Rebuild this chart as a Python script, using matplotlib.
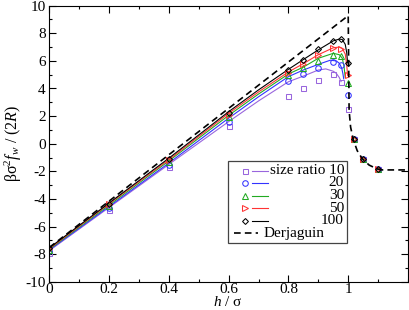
import matplotlib
matplotlib.use("Agg")
import matplotlib.pyplot as plt
from matplotlib.ticker import MultipleLocator, FixedLocator
from matplotlib.patches import Rectangle

plt.rcParams['font.family'] = ['Liberation Serif', 'DejaVu Serif']
plt.rcParams['mathtext.fontset'] = 'custom'
plt.rcParams['mathtext.rm'] = 'Liberation Serif'
plt.rcParams['mathtext.it'] = 'Liberation Serif:italic'
plt.rcParams['axes.unicode_minus'] = False

# ---- data ----
size_ratios = ['10', '20', '30', '50', '100']
colors = ['#9966dd', '#3333ff', '#22aa22', '#ff3333', '#000000']
markers = ['s', 'o', '^', '>', 'D']

# theory curves (lines)
th_x = {
    '10':  [0, 0.2, 0.4, 0.6, 0.7, 0.8, 0.85, 0.9, 0.925, 0.95, 0.96, 0.97, 0.976],
    '20':  [0, 0.2, 0.4, 0.6, 0.7, 0.8, 0.85, 0.9, 0.94, 0.96, 0.97, 0.978, 0.982, 0.985],
    '30':  [0, 0.2, 0.4, 0.6, 0.7, 0.8, 0.85, 0.9, 0.95, 0.97, 0.98, 0.986, 0.99],
    '50':  [0, 0.2, 0.4, 0.6, 0.7, 0.8, 0.85, 0.9, 0.95, 0.97, 0.98, 0.99, 0.995, 0.998],
    '100': [0, 0.2, 0.4, 0.6, 0.7, 0.8, 0.85, 0.9, 0.95, 0.97, 0.98, 0.99, 0.995, 0.998],
}
th_y = {
    '10':  [-7.75, -4.62, -1.5, 1.6, 3.1, 4.49, 4.9, 5.34, 5.42, 5.25, 5.1, 4.8, 4.5],
    '20':  [-7.7, -4.55, -1.4, 1.85, 3.4, 4.86, 5.34, 5.75, 6.05, 6.0, 5.83, 5.5, 5.1, 4.7],
    '30':  [-7.65, -4.45, -1.25, 2.05, 3.6, 5.05, 5.55, 6.19, 6.55, 6.45, 6.2, 5.6, 4.8],
    '50':  [-7.6, -4.35, -1.15, 2.2, 3.75, 5.2, 5.8, 6.45, 6.95, 7.0, 6.9, 6.5, 5.7, 4.95],
    '100': [-7.55, -4.3, -1.05, 2.32, 3.9, 5.39, 6.1, 6.8, 7.45, 7.58, 7.55, 7.2, 6.6, 5.85],
}

# simulation points (markers)
sim_x = [0, 0.2, 0.4, 0.6, 0.8, 0.85, 0.9, 0.95, 0.975, 1.0, 1.02, 1.05, 1.1]
sim_y = {
    '10':  [-7.9, -4.8, -1.71, 1.3, 3.46, 4.0, 4.6, 5.05, 4.47, 2.53, 0.32, -1.09, -1.81],
    '20':  [-7.8, -4.65, -1.55, 1.6, 4.54, 5.05, 5.46, 5.94, 5.7, 3.53, 0.32, -1.09, -1.81],
    '30':  [-7.7, -4.5, -1.35, 1.95, 4.95, 5.45, 6.0, 6.43, 6.36, 4.4, 0.32, -1.09, -1.81],
    '50':  [-7.6, -4.4, -1.2, 2.1, 5.15, 5.78, 6.45, 6.91, 6.86, 4.95, 0.32, -1.09, -1.81],
    '100': [-7.55, -4.35, -1.1, 2.25, 5.36, 6.1, 6.85, 7.46, 7.57, 5.85, 0.32, -1.09, -1.81],
}

# Derjaguin approximation
derj_x = [0, 1.0, 1.003, 1.008, 1.017, 1.03, 1.047, 1.07, 1.097, 1.115, 1.2]
derj_y = [-7.52, 9.28, 2.4, 1.2, 0.3, -0.5, -1.09, -1.55, -1.83, -1.9, -1.9]

# ---- figure ----
fig = plt.figure(figsize=(4.09, 3.10), dpi=100)
ax = fig.add_axes([49.3/409, 1-281.7/310, (408-49.3)/409, (281.7-5.7)/310])

MS = {'s': 3.6, 'o': 4.0, '^': 4.0, '>': 4.0, 'D': 3.0}

for sr, c in zip(size_ratios, colors):
    ax.plot(th_x[sr], th_y[sr], color=c, lw=0.8)
for sr, c, m in zip(size_ratios, colors, markers):
    ax.plot(sim_x, sim_y[sr], ls='none', marker=m, mfc='none', mec=c,
            ms=MS[m], mew=0.75)

ax.plot(derj_x, derj_y, color='black', lw=1.2, ls=(0, (4, 2.5)))

ax.set_xlim(0, 1.2)
ax.set_ylim(-10, 10)
ax.xaxis.set_major_locator(FixedLocator([0, 0.2, 0.4, 0.6, 0.8, 1.0]))
ax.set_xticklabels(['0', '0.2', '0.4', '0.6', '0.8', '1'])
ax.xaxis.set_minor_locator(MultipleLocator(0.1))
ax.yaxis.set_major_locator(MultipleLocator(2))
ax.yaxis.set_minor_locator(MultipleLocator(1))
ax.tick_params(which='both', direction='in', top=True, right=True, labelsize=11)
ax.tick_params(which='major', length=5, width=0.8, pad=2.5)
ax.tick_params(axis='x', which='major', pad=1.0)
ax.tick_params(which='minor', length=2.5, width=0.8)
for s in ax.spines.values():
    s.set_linewidth(0.8)

ax.set_xlabel(r'$h\ /\ \mathrm{\sigma}$', fontsize=11)
ax.set_ylabel(r'$\mathrm{\beta\sigma}^2 f_w\ /\ (2R)$', fontsize=11.5)


def fx(px):
    return (px - 49.3) / (408 - 49.3)


def fy(py):
    return (281.7 - py) / 276.0


ax.xaxis.set_label_coords(fx(228), fy(295))
ax.yaxis.set_label_coords(fx(24), fy(143))

# ---- legend (drawn manually to match layout) ----
ax.add_patch(Rectangle((fx(228.3), fy(243.3)), fx(346.7) - fx(228.3), fy(161) - fy(243.3),
                       transform=ax.transAxes, fill=True, fc='white', ec='#444444', lw=0.9,
                       zorder=5))
rows = [170.5, 183, 195.5, 208, 220.5]
labels = ['size ratio 10', '20', '30', '50', '100']
for py, lab, c, m in zip(rows, labels, colors, markers):
    ax.plot([fx(245)], [fy(py)], marker=m, mfc='none', mec=c, ms=MS[m],
            mew=0.75, transform=ax.transAxes, zorder=6, clip_on=False)
    ax.plot([fx(251.7), fx(268.3)], [fy(py), fy(py)], color=c, lw=0.8,
            transform=ax.transAxes, zorder=6)
    ax.text(fx(344), fy(py), lab, ha='right', va='center', fontsize=11,
            transform=ax.transAxes, zorder=6)
ax.plot([fx(234), fx(258)], [fy(233), fy(233)], color='black', lw=1.2, ls=(0, (4, 2.5)),
        transform=ax.transAxes, zorder=6)
ax.text(fx(264), fy(233), 'Derjaguin', ha='left', va='center', fontsize=11,
        transform=ax.transAxes, zorder=6)

fig.savefig('out.png', dpi=100)
